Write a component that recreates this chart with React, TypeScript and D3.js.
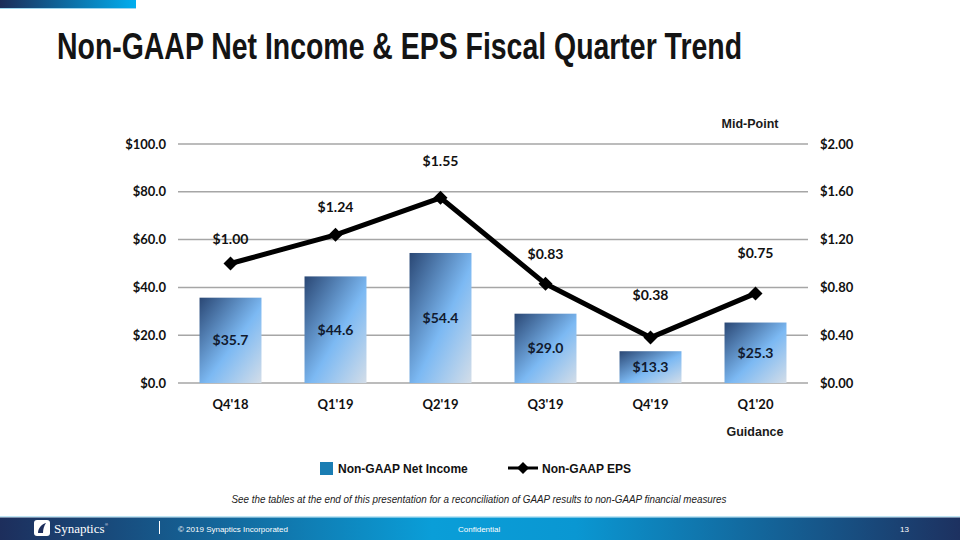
import React from "react";
import * as d3 from "d3";

const categories = ["Q4'18", "Q1'19", "Q2'19", "Q3'19", "Q4'19", "Q1'20"];
const netIncome = [35.7, 44.6, 54.4, 29.0, 13.3, 25.3];
const eps = [1.0, 1.24, 1.55, 0.83, 0.38, 0.75];
const leftTicks = [0, 20, 40, 60, 80, 100];
const rightTicks = [0, 0.4, 0.8, 1.2, 1.6, 2.0];
const epsLabelDy = [-20, -23, -32, -25, -38, -35];

const W = 960;
const H = 540;
const plot = { left: 178, right: 808, top: 144, bottom: 383 };
const lblFont = "Lato, 'Open Sans', sans-serif";
const arial = "'Liberation Sans', Arial, sans-serif";

export default function App() {
  const x = d3.scaleBand<string>().domain(categories).range([plot.left, plot.right]).paddingInner(0.41).paddingOuter(0.205);
  const yL = d3.scaleLinear().domain([0, 100]).range([plot.bottom, plot.top]);
  const yR = d3.scaleLinear().domain([0, 2]).range([plot.bottom, plot.top]);
  const cx = (c: string) => (x(c) as number) + x.bandwidth() / 2;
  const line = d3.line<number>().x((_, i) => cx(categories[i])).y((d) => yR(d));
  const diamond = (px: number, py: number, r: number) => `M${px},${py - r}L${px + r},${py}L${px},${py + r}L${px - r},${py}Z`;

  return (
    <svg width={W} height={H} style={{ position: "absolute", left: 0, top: 0, background: "#fff" }}>
      <defs>
        <linearGradient id="topbar" x1="0" x2="1" y1="0" y2="0">
          <stop offset="0" stopColor="#1b2c58" />
          <stop offset="1" stopColor="#00aeef" />
        </linearGradient>
        <linearGradient id="footer" x1="0" x2="1" y1="0" y2="0">
          <stop offset="0" stopColor="#1d2e5c" />
          <stop offset="0.45" stopColor="#0a9ed8" />
          <stop offset="0.6" stopColor="#0a97d2" />
          <stop offset="1" stopColor="#1d3160" />
        </linearGradient>
        <linearGradient id="bar" x1="0" y1="0" x2="1" y2="1">
          <stop offset="0" stopColor="#2a4774" />
          <stop offset="0.55" stopColor="#7cb9f3" />
          <stop offset="1" stopColor="#d3dde8" />
        </linearGradient>
      </defs>

      <rect x={0} y={0} width={136} height={8} fill="url(#topbar)" />
      <rect x={0} y={8} width={136} height={1} fill="#9fd6ee" />

      <text x={57} y={59} fontFamily="'Liberation Sans Narrow', 'Liberation Sans', Arial, sans-serif" fontWeight="bold" fontSize={37} fill="#141414" textLength={685} lengthAdjust="spacingAndGlyphs">
        Non-GAAP Net Income &amp; EPS Fiscal Quarter Trend
      </text>

      <text x={750} y={128} textAnchor="middle" fontFamily={arial} fontWeight="bold" fontSize={12.5} fill="#1a1a1a">Mid-Point</text>

      {leftTicks.map((t) => (
        <g key={"g" + t}>
          <line x1={plot.left} x2={plot.right} y1={yL(t)} y2={yL(t)} stroke="#a6a6a6" strokeWidth={1.5} />
          <text x={166} y={yL(t) + 4.5} textAnchor="end" fontFamily={lblFont} fontWeight="bold" fontSize={13} fill="#111">
            {"$" + t.toFixed(1)}
          </text>
        </g>
      ))}
      {rightTicks.map((t) => (
        <text key={"r" + t} x={820} y={yR(t) + 4.5} fontFamily={lblFont} fontWeight="bold" fontSize={13} fill="#111">
          {"$" + t.toFixed(2)}
        </text>
      ))}

      {categories.map((c, i) => (
        <g key={c}>
          <rect x={x(c)} y={yL(netIncome[i])} width={x.bandwidth()} height={yL(0) - yL(netIncome[i])} fill="url(#bar)" />
          <text x={cx(c)} y={(yL(netIncome[i]) + yL(0)) / 2 + 5} textAnchor="middle" fontFamily={lblFont} fontWeight="bold" fontSize={14} fill="#111a2e">
            {"$" + netIncome[i].toFixed(1)}
          </text>
          <text x={cx(c)} y={409} textAnchor="middle" fontFamily={lblFont} fontWeight="bold" fontSize={13} fill="#111">
            {c}
          </text>
        </g>
      ))}

      <path d={line(eps) || ""} fill="none" stroke="#000" strokeWidth={5} strokeLinejoin="round" />
      {eps.map((v, i) => (
        <g key={"e" + i}>
          <path d={diamond(cx(categories[i]), yR(v), 7)} fill="#000" />
          <text x={cx(categories[i])} y={yR(v) + epsLabelDy[i]} textAnchor="middle" fontFamily={lblFont} fontWeight="bold" fontSize={14} fill="#111">
            {"$" + v.toFixed(2)}
          </text>
        </g>
      ))}

      <text x={755} y={436} textAnchor="middle" fontFamily={arial} fontWeight="bold" fontSize={12.5} fill="#1a1a1a">Guidance</text>

      <rect x={320} y={462} width={13} height={13} fill="#1a7db3" />
      <text x={338} y={473} fontFamily={arial} fontWeight="bold" fontSize={12} fill="#111">Non-GAAP Net Income</text>
      <line x1={508} x2={538} y1={468} y2={468} stroke="#000" strokeWidth={3} />
      <path d={diamond(523, 468, 6)} fill="#000" />
      <text x={542} y={473} fontFamily={arial} fontWeight="bold" fontSize={12} fill="#111">Non-GAAP EPS</text>

      <text x={479} y={503} textAnchor="middle" fontFamily={arial} fontStyle="italic" fontSize={10} fill="#222" textLength={495} lengthAdjust="spacingAndGlyphs">
        See the tables at the end of this presentation for a reconciliation of GAAP results to non-GAAP financial measures
      </text>

      <rect x={0} y={516} width={W} height={1.5} fill="#bfe6f5" />
      <rect x={0} y={517.5} width={W} height={H - 517.5} fill="url(#footer)" />
      <g transform="translate(34,520)">
        <rect x={0} y={0} width={16} height={16} rx={3} fill="#fff" />
        <path d="M4,13 C4,8 8,4 12,3 C10,6 9,9 9,13 Z" fill="#1d2e5c" />
      </g>
      <text x={54} y={533} fontFamily="'Liberation Serif', serif" fontSize={13} fill="#fff">Synaptics</text>
      <text x={105} y={526} fontFamily={arial} fontSize={4} fill="#fff">®</text>
      <rect x={159} y={521} width={1} height={13} fill="#fff" />
      <text x={178} y={532} fontFamily={arial} fontSize={8} fill="#fff">© 2019 Synaptics Incorporated</text>
      <text x={458} y={532} fontFamily={arial} fontSize={8} fill="#fff">Confidential</text>
      <text x={900} y={532} fontFamily={arial} fontSize={8} fill="#fff">13</text>
    </svg>
  );
}
